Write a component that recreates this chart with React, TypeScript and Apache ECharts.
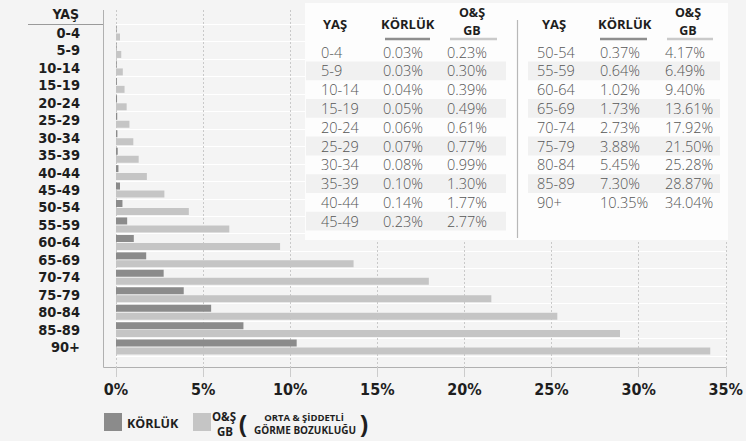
import React, { useEffect, useRef } from "react";
import * as echarts from "echarts";

// Age groups, top to bottom
const ages = [
  "0-4", "5-9", "10-14", "15-19", "20-24", "25-29", "30-34", "35-39", "40-44", "45-49",
  "50-54", "55-59", "60-64", "65-69", "70-74", "75-79", "80-84", "85-89", "90+",
];
// Blindness prevalence (%)
const korluk = [
  0.03, 0.03, 0.04, 0.05, 0.06, 0.07, 0.08, 0.10, 0.14, 0.23,
  0.37, 0.64, 1.02, 1.73, 2.73, 3.88, 5.45, 7.30, 10.35,
];
// Moderate & severe visual impairment prevalence (%)
const osgb = [
  0.23, 0.30, 0.39, 0.49, 0.61, 0.77, 0.99, 1.30, 1.77, 2.77,
  4.17, 6.49, 9.40, 13.61, 17.92, 21.50, 25.28, 28.87, 34.04,
];
const xTicks = { min: 0, max: 35, interval: 5 };

const FONT = "'Open Sans', 'DejaVu Sans', sans-serif";
const COND = "'DejaVu Sans Condensed', 'Open Sans', sans-serif";
const DARK = "#8b8b8b";
const LIGHT = "#c5c5c5";
const INK = "#1e1e1e";

const fmt = (v: number) => v.toFixed(2) + "%";

function buildTable(): any[] {
  const els: any[] = [];
  const rowY0 = 52;
  const rowH = 18.8;
  // white panel
  els.push({
    type: "rect",
    shape: { x: 305, y: 3, width: 423, height: 237 },
    style: { fill: "#fdfdfd" },
    z: 10,
  });
  els.push({
    type: "line",
    shape: { x1: 517.5, y1: 20, x2: 517.5, y2: 238 },
    style: { stroke: "#b8b8b8", lineWidth: 1.2 },
    z: 11,
  });
  const halves = [
    { start: 0, end: 10, xa: 321, xk: 383, xo: 447, hk: [385, 430], ho: [450, 497], oc: 472, band: [306, 506], ya: 323 },
    { start: 10, end: 19, xa: 537, xk: 600, xo: 665, hk: [600, 647], ho: [667, 713], oc: 688, band: [528, 720], ya: 542 },
  ];
  const hdr = { fontFamily: FONT, fontWeight: "bold", fontSize: 13, fill: INK };
  halves.forEach((h) => {
    els.push({ type: "text", x: h.ya, y: 24, z: 12, style: { ...hdr, text: "YAŞ", verticalAlign: "middle" } });
    els.push({ type: "text", x: h.xk - 2, y: 24, z: 12, style: { ...hdr, text: "KÖRLÜK", verticalAlign: "middle" } });
    els.push({ type: "text", x: h.oc, y: 12, z: 12, style: { ...hdr, fontSize: 12.5, lineHeight: 15, text: "O&Ş", align: "center", verticalAlign: "middle" } });
    els.push({ type: "text", x: h.oc, y: 30, z: 12, style: { ...hdr, fontSize: 12.5, lineHeight: 15, text: "GB", align: "center", verticalAlign: "middle" } });
    els.push({
      type: "line", z: 12,
      shape: { x1: h.hk[0], y1: 39, x2: h.hk[1], y2: 39 },
      style: { stroke: "#8e8e8e", lineWidth: 2.5 },
    });
    els.push({
      type: "line", z: 12,
      shape: { x1: h.ho[0], y1: 39, x2: h.ho[1], y2: 39 },
      style: { stroke: "#cacaca", lineWidth: 2.5 },
    });
    for (let i = h.start; i < h.end; i++) {
      const r = i - h.start;
      const y = rowY0 + r * rowH;
      if (i % 2 === 1) {
        els.push({
          type: "rect", z: 11,
          shape: { x: h.band[0], y: y - rowH / 2, width: h.band[1] - h.band[0], height: rowH },
          style: { fill: "#f1f1f1" },
        });
      }
      const cell = { fontFamily: FONT, fontWeight: 300, fontSize: 14.5, lineHeight: 17, fill: "#555", verticalAlign: "middle" };
      els.push({ type: "text", x: h.xa, y, z: 12, style: { ...cell, text: ages[i] } });
      els.push({ type: "text", x: h.xk, y, z: 12, style: { ...cell, text: fmt(korluk[i]) } });
      els.push({ type: "text", x: h.xo, y, z: 12, style: { ...cell, text: fmt(osgb[i]) } });
    }
  });
  return els;
}

function buildLegend(): any[] {
  const bold = { fontFamily: FONT, fontWeight: "bold", fill: INK };
  return [
    { type: "rect", shape: { x: 104, y: 413, width: 18, height: 18 }, style: { fill: DARK } },
    { type: "text", x: 127, y: 423, style: { ...bold, fontSize: 12.5, text: "KÖRLÜK", verticalAlign: "middle" } },
    { type: "rect", shape: { x: 193, y: 413, width: 18, height: 18 }, style: { fill: LIGHT } },
    { type: "text", x: 224, y: 416, style: { ...bold, fontSize: 11.5, lineHeight: 13, text: "O&Ş", align: "center", verticalAlign: "middle" } },
    { type: "text", x: 225, y: 431, style: { ...bold, fontSize: 11.5, lineHeight: 13, text: "GB", align: "center", verticalAlign: "middle" } },
    { type: "text", x: 243, y: 423, style: { ...bold, fontSize: 25, lineHeight: 26, text: "(", align: "center", verticalAlign: "middle" } },
    { type: "text", x: 304, y: 417, style: { ...bold, fontSize: 9.5, lineHeight: 11, text: "ORTA & ŞİDDETLİ", align: "center", verticalAlign: "middle" } },
    { type: "text", x: 305, y: 430, style: { ...bold, fontSize: 10, lineHeight: 12, text: "GÖRME BOZUKLUĞU", align: "center", verticalAlign: "middle" } },
    { type: "text", x: 364, y: 423, style: { ...bold, fontSize: 25, lineHeight: 26, text: ")", align: "center", verticalAlign: "middle" } },
  ];
}

export default function App() {
  const ref = useRef<HTMLDivElement>(null);

  useEffect(() => {
    if (!ref.current) return;
    const chart = echarts.init(ref.current, undefined, { renderer: "svg" });
    const option: any = {
      animation: false,
      backgroundColor: "#f4f4f4",
      textStyle: { fontFamily: FONT },
      grid: [
        { left: 116, width: 611, top: 24.3, height: 331.5 },
        { left: 116, width: 611, top: 10, height: 357 },
      ],
      xAxis: [
        { type: "value", gridIndex: 0, ...xTicks, show: false },
        {
          type: "value",
          gridIndex: 1,
          ...xTicks,
          axisLine: { show: true, lineStyle: { color: "#b0b0b0", width: 1 } },
          axisTick: { show: true, length: 10, lineStyle: { color: "#cccccc" } },
          splitLine: { show: true, lineStyle: { color: "#c9c9c9", type: [2, 2], width: 1 } },
          axisLabel: {
            formatter: "{value}%",
            color: INK,
            fontFamily: COND,
            fontWeight: "bold",
            fontSize: 16,
            margin: 14,
          },
        },
      ],
      yAxis: [
        {
          type: "category",
          gridIndex: 0,
          data: ages,
          inverse: true,
          axisLine: { show: false },
          axisTick: { show: false },
          splitLine: { show: true, interval: 0, lineStyle: { color: "#ffffff", width: 1 } },
          axisLabel: {
            interval: 0,
            color: INK,
            fontFamily: COND,
            fontWeight: "bold",
            fontSize: 14.5,
            lineHeight: 16,
            margin: 36,
          },
        },
        { type: "value", gridIndex: 1, min: 0, max: 1, show: false },
      ],
      series: [
        {
          name: "KÖRLÜK",
          type: "bar",
          xAxisIndex: 0,
          yAxisIndex: 0,
          data: korluk,
          barWidth: 7,
          barGap: "14%",
          itemStyle: { color: DARK },
        },
        {
          name: "O&Ş GB",
          type: "bar",
          xAxisIndex: 0,
          yAxisIndex: 0,
          data: osgb,
          barWidth: 7,
          itemStyle: { color: LIGHT },
        },
      ],
      graphic: [
        {
          type: "polyline",
          shape: { points: [[103.5, 10], [103.5, 367.5], [116, 367.5]] },
          style: { stroke: "#b0b0b0", lineWidth: 1, fill: "none" },
        },
        {
          type: "line",
          shape: { x1: 28, y1: 24.5, x2: 103, y2: 24.5 },
          style: { stroke: "#9a9a9a", lineWidth: 1 },
        },
        {
          type: "text",
          x: 79,
          y: 14,
          style: {
            text: "YAŞ",
            fontFamily: COND,
            fontWeight: "bold",
            fontSize: 14,
            lineHeight: 16,
            fill: INK,
            align: "right",
            verticalAlign: "middle",
          },
        },
        ...buildTable(),
        ...buildLegend(),
      ],
    };
    chart.setOption(option);
    return () => chart.dispose();
  }, []);

  return (
    <div
      ref={ref}
      style={{ position: "absolute", left: 0, top: 0, width: 746, height: 441 }}
    />
  );
}
